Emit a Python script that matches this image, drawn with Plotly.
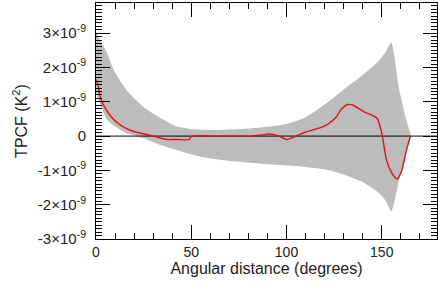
import plotly.graph_objects as go

# Band (in units of 1e-9 K^2)
band_x = [0, 2, 5.6, 9.4, 16, 25, 34, 42, 51, 60, 75, 90, 101, 110, 122, 131, 140, 148.5, 152, 155, 159, 163, 165.5]
band_hi = [3.05, 2.8, 2.45, 1.92, 1.34, 0.85, 0.52, 0.29, 0.2, 0.18, 0.2, 0.27, 0.37, 0.55, 1.0, 1.4, 1.78, 2.2, 2.45, 2.72, 1.4, 0.45, 0.0]
band_lo = [1.3, 0.95, 0.5, 0.3, 0.09, -0.06, -0.26, -0.4, -0.55, -0.65, -0.75, -0.82, -0.86, -0.9, -0.99, -1.14, -1.34, -1.66, -1.88, -2.2, -1.3, -0.45, 0.0]

# TPCF curve
curve_x = [0, 1, 2, 3, 5, 7, 9, 11, 14, 18, 23, 27, 32, 37, 42, 49, 50, 60, 70, 80, 87, 91, 96, 100, 105, 110, 115, 119, 122, 126, 129, 132, 135, 138, 141, 144, 147.5, 150, 152.5, 155, 158, 160.5, 163, 165]
curve_y = [1.65, 1.5, 1.2, 1.0, 0.8, 0.63, 0.5, 0.4, 0.28, 0.17, 0.09, 0.04, -0.03, -0.1, -0.1, -0.1, 0.0, 0.0, 0.0, 0.0, 0.03, 0.06, 0.0, -0.1, 0.0, 0.12, 0.2, 0.27, 0.36, 0.55, 0.8, 0.92, 0.9, 0.8, 0.7, 0.63, 0.52, 0.09, -0.7, -1.05, -1.25, -1.0, -0.4, 0.0]

y_tickvals = [-3, -2, -1, 0, 1, 2, 3]
y_ticktext = ["-3×10<sup>-9</sup>", "-2×10<sup>-9</sup>", "-1×10<sup>-9</sup>", "0",
              "1×10<sup>-9</sup>", "2×10<sup>-9</sup>", "3×10<sup>-9</sup>"]
x_tickvals = [0, 50, 100, 150]

scale = 1e-9
fig = go.Figure()
fig.add_trace(go.Scatter(x=band_x, y=[v * scale for v in band_lo], mode="lines",
                         line=dict(width=0, color="#bcbcbc", shape="spline", smoothing=0.6),
                         showlegend=False, hoverinfo="skip"))
fig.add_trace(go.Scatter(x=band_x, y=[v * scale for v in band_hi], mode="lines",
                         line=dict(width=0, color="#bcbcbc", shape="spline", smoothing=0.6), fill="tonexty",
                         fillcolor="#bcbcbc", showlegend=False, hoverinfo="skip"))
fig.add_trace(go.Scatter(x=[0, 180], y=[0, 0], mode="lines",
                         line=dict(width=1, color="black"), showlegend=False))
fig.add_trace(go.Scatter(x=curve_x, y=[v * scale for v in curve_y], mode="lines",
                         line=dict(width=1.4, color="#e0101a", shape="spline", smoothing=0.6),
                         showlegend=False))

font = dict(family="Liberation Sans, Arial, sans-serif", size=14, color="#222")
fig.update_layout(
    width=438, height=291,
    margin=dict(l=96, r=1, t=3, b=52),
    plot_bgcolor="white", paper_bgcolor="white",
    font=font,
    xaxis=dict(range=[0, 179], tickvals=x_tickvals, ticks="inside", ticklen=14, tickwidth=1,
               tickcolor="black", showline=True, linecolor="black", linewidth=1, mirror="allticks",
               showgrid=False, zeroline=False, automargin=False,
               minor=dict(dtick=10, ticks="inside", ticklen=6, tickcolor="black", showgrid=False),
               title=dict(text="Angular distance (degrees)", standoff=4, font=dict(size=16)),
               tickfont=dict(size=14)),
    yaxis=dict(range=[-3e-9, 3.88e-9], tickvals=[v * scale for v in y_tickvals], ticktext=y_ticktext,
               ticks="inside", ticklen=14, tickwidth=1, tickcolor="black", showline=True,
               linecolor="black", linewidth=1, mirror="allticks", showgrid=False, zeroline=False,
               automargin=False,
               minor=dict(dtick=1e-10, tick0=0, ticks="inside", ticklen=6, tickcolor="black", showgrid=False),
               ticklabelstandoff=6,
               title=dict(text="TPCF (K<sup>2</sup>)", standoff=6, font=dict(size=16)),
               tickfont=dict(size=15)),
)
fig.write_html("out.html", config={"responsive": False, "displayModeBar": False},
               post_script="document.body.style.margin='0';document.body.style.overflow='hidden';")
